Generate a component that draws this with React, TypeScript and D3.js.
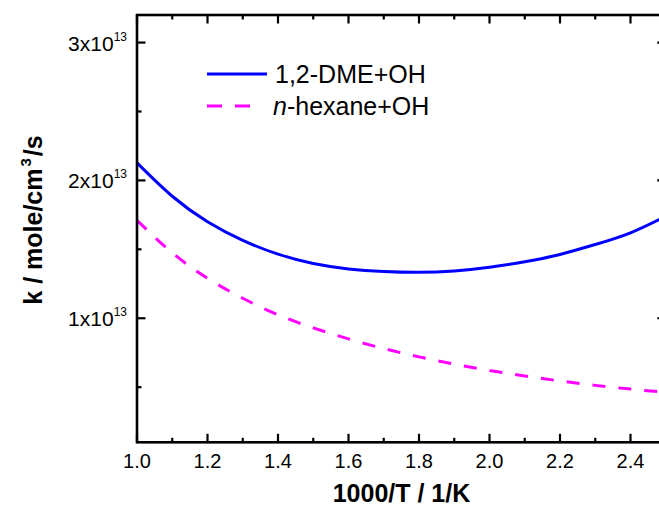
import React from "react";
import * as d3 from "d3";

const xValues = [1.0, 1.1, 1.2, 1.3, 1.4, 1.5, 1.6, 1.7, 1.8, 1.9, 2.0, 2.1, 2.2, 2.3, 2.4, 2.5];
const dmeOH = [2.127, 1.885, 1.7, 1.565, 1.465, 1.397, 1.358, 1.339, 1.333, 1.343, 1.37, 1.41, 1.463, 1.535, 1.62, 1.74];
const hexaneOH = [1.71, 1.475, 1.29, 1.145, 1.025, 0.93, 0.85, 0.78, 0.72, 0.667, 0.621, 0.581, 0.545, 0.513, 0.486, 0.462];
const xTicks = [1.0, 1.2, 1.4, 1.6, 1.8, 2.0, 2.2, 2.4];
const xMinorTicks = [1.1, 1.3, 1.5, 1.7, 1.9, 2.1, 2.3];
const yTicks = [1, 2, 3];
const yMinorTicks = [0.5, 1.5, 2.5];
const seriesNames = ["1,2-DME+OH", "n-hexane+OH"];

const W = 659;
const H = 507;
const left = 137;
const right = 665.75;
const top = 15;
const bottom = 442.3;
const FONT = "'Liberation Sans', Arial, Helvetica, sans-serif";

export default function App() {
  const x = d3.scaleLinear().domain([1.0, 2.5]).range([left, right]);
  const y = d3.scaleLinear().domain([0.1, 3.2]).range([bottom, top]);

  const line = d3
    .line<number>()
    .x((_, i) => x(xValues[i]))
    .y((d) => y(d))
    .curve(d3.curveNatural);

  const axisColor = "#000";
  const axisW = 2.6;
  const major = 8.5;
  const minor = 4.5;

  return (
    <svg
      width={W}
      height={H}
      style={{ position: "absolute", left: 0, top: 0, background: "#fff", overflow: "hidden" }}
      fontFamily={FONT}
    >
      <rect x={0} y={0} width={W} height={H} fill="#fff" />
      <defs>
        <clipPath id="plot">
          <rect x={left} y={top} width={right - left} height={bottom - top} />
        </clipPath>
      </defs>

      <g clipPath="url(#plot)">
        <path d={line(dmeOH) || ""} fill="none" stroke="#0000ff" strokeWidth={3} />
        <path
          d={line(hexaneOH) || ""}
          fill="none"
          stroke="#ff00ff"
          strokeWidth={3}
          strokeDasharray="13 13"
        />
      </g>

      {/* axes frame */}
      <rect
        x={left}
        y={top}
        width={right - left}
        height={bottom - top}
        fill="none"
        stroke={axisColor}
        strokeWidth={axisW}
      />

      {/* x ticks bottom/top */}
      {xTicks.map((t) => (
        <g key={"xt" + t}>
          <line x1={x(t)} x2={x(t)} y1={bottom} y2={bottom - major} stroke={axisColor} strokeWidth={2.2} />
          <line x1={x(t)} x2={x(t)} y1={top} y2={top + major} stroke={axisColor} strokeWidth={2.2} />
          <text x={x(t)} y={468} textAnchor="middle" fontSize={20} fill="#000">
            {t.toFixed(1)}
          </text>
        </g>
      ))}
      {xMinorTicks.map((t) => (
        <g key={"xm" + t}>
          <line x1={x(t)} x2={x(t)} y1={bottom} y2={bottom - minor} stroke={axisColor} strokeWidth={2.2} />
          <line x1={x(t)} x2={x(t)} y1={top} y2={top + minor} stroke={axisColor} strokeWidth={2.2} />
        </g>
      ))}

      {/* y ticks left/right */}
      {yTicks.map((t) => (
        <g key={"yt" + t}>
          <line x1={left} x2={left + major} y1={y(t)} y2={y(t)} stroke={axisColor} strokeWidth={2.2} />
          <line x1={right} x2={right - major} y1={y(t)} y2={y(t)} stroke={axisColor} strokeWidth={2.2} />
          <text x={127} y={y(t) + 8} textAnchor="end" fontSize={21} fill="#000">
            {t}x10
            <tspan fontSize={12} dy={-10}>
              13
            </tspan>
          </text>
        </g>
      ))}
      {yMinorTicks.map((t) => (
        <g key={"ym" + t}>
          <line x1={left} x2={left + minor} y1={y(t)} y2={y(t)} stroke={axisColor} strokeWidth={2.2} />
          <line x1={right} x2={right - minor} y1={y(t)} y2={y(t)} stroke={axisColor} strokeWidth={2.2} />
        </g>
      ))}

      {/* axis titles */}
      <text x={401.5} y={501.5} textAnchor="middle" fontSize={25} fontWeight="bold" fill="#000">
        1000/T / 1/K
      </text>
      <text
        transform="translate(41.5,220) rotate(-90)"
        textAnchor="middle"
        fontSize={25}
        fontWeight="bold"
        fill="#000"
      >
        k / mole/cm
        <tspan fontSize={15} dy={-11} dx={2}>
          3
        </tspan>
        <tspan dy={11} dx={2}>/s</tspan>
      </text>

      {/* legend */}
      <line x1={207} x2={267} y1={74} y2={74} stroke="#0000ff" strokeWidth={3} />
      <text x={275} y={83} fontSize={25} fill="#000">
        {seriesNames[0]}
      </text>
      <line x1={207} x2={252} y1={106} y2={106} stroke="#ff00ff" strokeWidth={3} strokeDasharray="15 13" />
      <text x={273} y={115} fontSize={25} fill="#000">
        <tspan fontStyle="italic">n</tspan>
        {seriesNames[1].slice(1)}
      </text>
    </svg>
  );
}
